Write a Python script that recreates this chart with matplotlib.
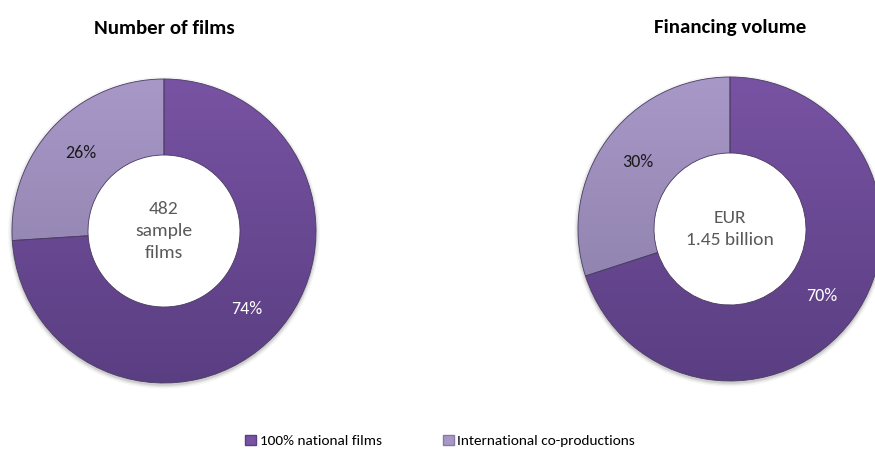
import numpy as np
import matplotlib.pyplot as plt
from matplotlib.colors import LinearSegmentedColormap
from matplotlib.patches import Patch, Circle

# data
categories = ['100% national films', 'International co-productions']
titles = ['Number of films', 'Financing volume']
films_share = [74, 26]
volume_share = [70, 30]
centre_labels = ['482\nsample\nfilms', 'EUR\n1.45 billion']

# top -> bottom gradient for each category
shades = [('#7853a3', '#5a3e82'), ('#a898c8', '#877aa4')]
label_colors = ['white', '#1a1a1a']

plt.rcParams['font.family'] = ['Carlito', 'Lato', 'DejaVu Sans']

W, H = 875, 459
fig = plt.figure(figsize=(W / 100, H / 100), dpi=100)

R = 152  # outer radius in px
centres = [(164, 231), (730, 229)]


def donut(cx, cy, values, title, centre_text):
    ax = fig.add_axes([(cx - R - 6) / W, (H - cy - R - 6) / H,
                       2 * (R + 6) / W, 2 * (R + 6) / H])
    # soft drop shadow under the ring
    for k, a in [(1.025, 0.06), (1.015, 0.10), (1.006, 0.16)]:
        ax.add_patch(Circle((0, -0.012), k, color='#555555', alpha=a,
                            lw=0, zorder=0))
    ax.add_patch(Circle((0, 0), 0.5, color='white', lw=0, zorder=0.5))
    wedges, texts, pcts = ax.pie(
        values, startangle=90, counterclock=False, radius=1,
        autopct='%.0f%%', pctdistance=0.75,
        wedgeprops=dict(width=0.5, edgecolor='#4b3d63', linewidth=0.6),
        textprops=dict(fontsize=13),
    )
    grad = np.linspace(0, 1, 256).reshape(-1, 1)
    for w, (top, bottom), t, c in zip(wedges, shades, pcts, label_colors):
        cmap = LinearSegmentedColormap.from_list('g', [top, bottom])
        im = ax.imshow(grad, extent=[-1, 1, -1, 1], cmap=cmap,
                       aspect='auto', origin='upper', zorder=w.get_zorder())
        im.set_clip_path(w)
        w.set_facecolor('none')
        w.set_zorder(w.get_zorder() + 0.5)
        t.set_color(c)
        t.set_zorder(5)
    ax.text(0, 0.0, centre_text, ha='center', va='center', fontsize=14,
            color='#595959', linespacing=1.5)
    lim = (R + 6) / R
    ax.set_xlim(-lim, lim)
    ax.set_ylim(-lim, lim)
    ax.set_aspect('equal')
    ax.axis('off')
    fig.text(cx / W, 1 - 28 / H, title, ha='center', va='center',
             fontsize=15, fontweight='bold')


donut(*centres[0], films_share, titles[0], centre_labels[0])
donut(*centres[1], volume_share, titles[1], centre_labels[1])

handles = [Patch(facecolor=shades[i][0], edgecolor=shades[i][1], label=categories[i])
           for i in range(len(categories))]
fig.legend(handles=handles, loc='center', bbox_to_anchor=(0.503, 1 - 441 / H),
           ncol=2, frameon=False, fontsize=11, handlelength=0.7, handleheight=0.7,
           handletextpad=0.25, columnspacing=4.0)

fig.savefig('out.png', dpi=100, facecolor='white')
